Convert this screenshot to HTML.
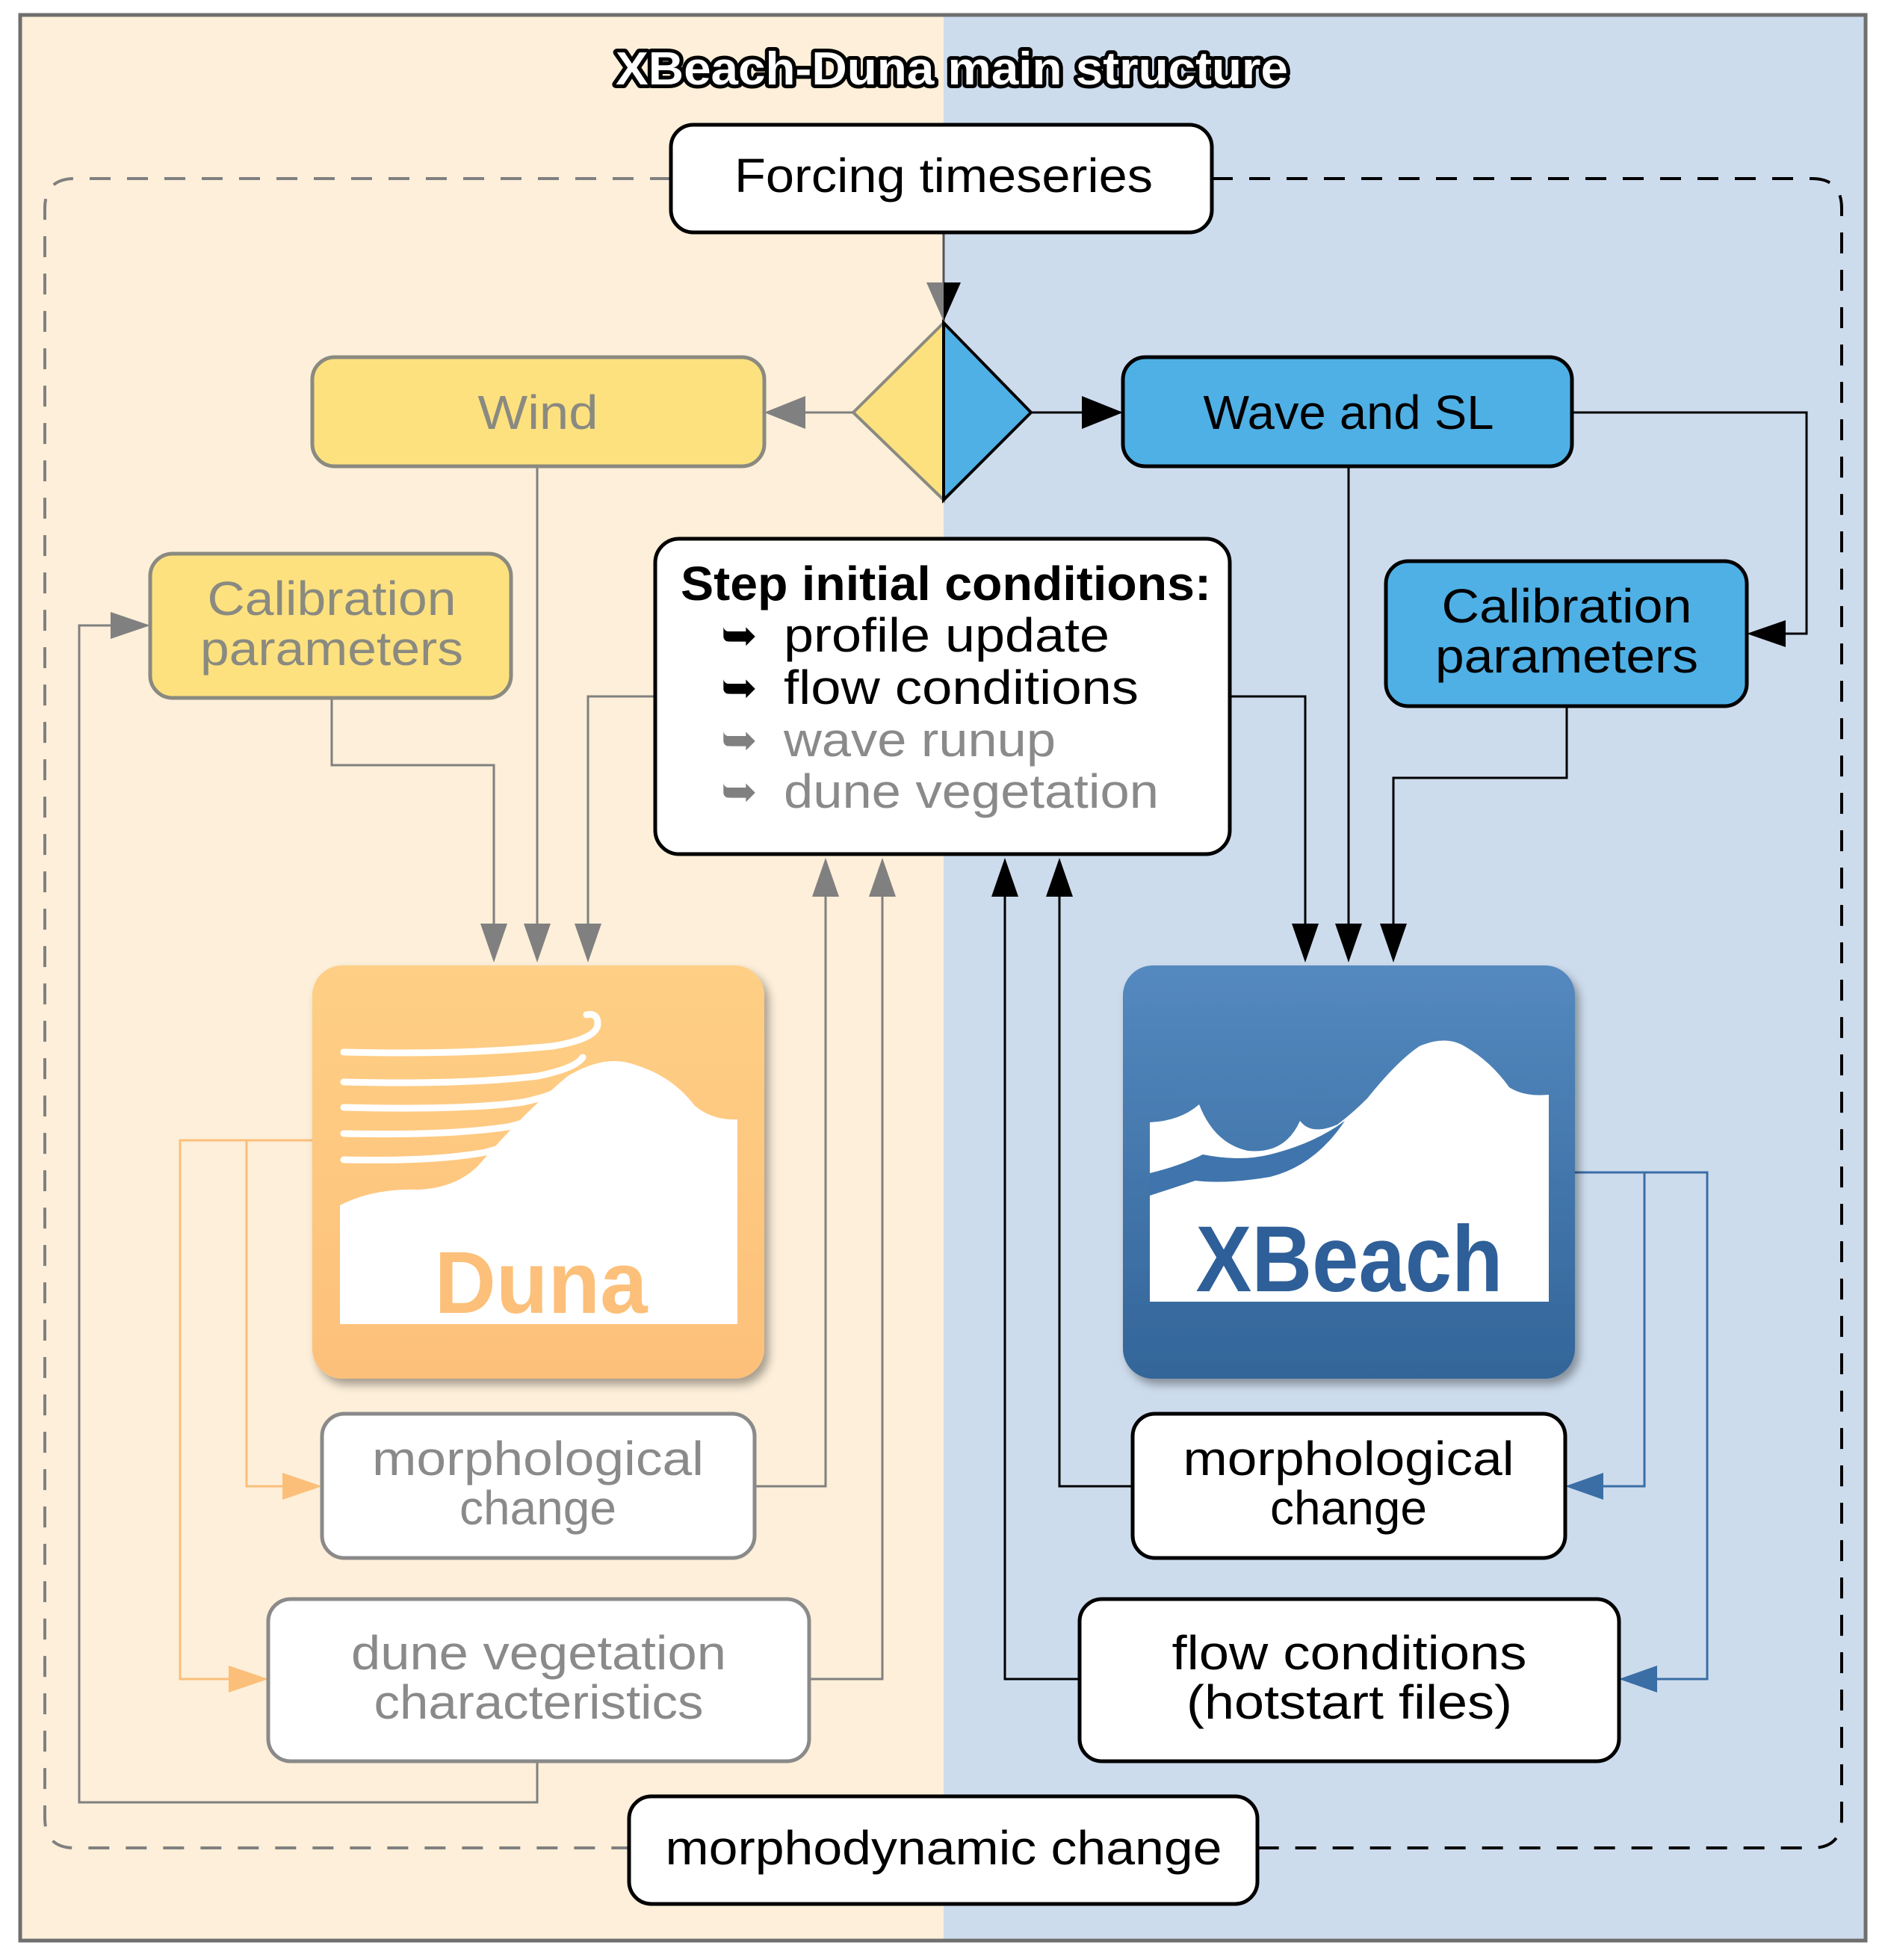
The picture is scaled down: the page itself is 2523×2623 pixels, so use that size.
<!DOCTYPE html>
<html><head><meta charset="utf-8"><style>
html,body{margin:0;padding:0;background:#fff}
svg{display:block}
text{font-family:"Liberation Sans",sans-serif}
</style></head><body>
<svg width="2523" height="2623" viewBox="0 0 2523 2623" xmlns="http://www.w3.org/2000/svg">
<defs>
<linearGradient id="gd" x1="0" y1="0" x2="0" y2="1"><stop offset="0" stop-color="#fecf85"/><stop offset="1" stop-color="#fdc07a"/></linearGradient>
<linearGradient id="gx" x1="0" y1="0" x2="0" y2="1"><stop offset="0" stop-color="#5489bf"/><stop offset="1" stop-color="#336599"/></linearGradient>
<filter id="sh" x="-10%" y="-10%" width="130%" height="130%"><feDropShadow dx="6" dy="8" stdDeviation="6" flood-color="#000" flood-opacity="0.35"/></filter>
</defs>
<rect x="27" y="20" width="1236" height="2577" fill="#fdefd9"/>
<rect x="1263" y="20" width="1234" height="2577" fill="#cddced"/>
<rect x="27" y="20" width="2470" height="2577" fill="none" stroke="#6f6f6f" stroke-width="5"/>

<text x="1274" y="113" text-anchor="middle" font-size="62" font-weight="bold" fill="#fff" stroke="#000" stroke-width="10" stroke-linejoin="round" paint-order="stroke" textLength="900" lengthAdjust="spacingAndGlyphs">XBeach-Duna main structure</text>

<path d="M898 239 H100 Q60 239 60 279 V2433 Q60 2473 100 2473 H842" fill="none" stroke="#808080" stroke-width="4" stroke-dasharray="28 22"/>
<path d="M1622 239 H2425 Q2465 239 2465 279 V2433 Q2465 2473 2425 2473 H1683" fill="none" stroke="#000" stroke-width="4" stroke-dasharray="28 22"/>

<line x1="1263" y1="311" x2="1263" y2="430" stroke="#555" stroke-width="3"/>
<polygon points="1240,378 1263,378 1263,430" fill="#808080"/>
<polygon points="1263,378 1286,378 1263,430" fill="#000"/>

<polygon points="1263,432 1142,552 1263,669" fill="#fde17f" stroke="#8a8a80" stroke-width="4"/>
<polygon points="1263,432 1380,552 1263,669" fill="#4fb0e5" stroke="#000" stroke-width="4"/>
<line x1="1142" y1="552" x2="1075" y2="552" stroke="#808080" stroke-width="3"/>
<polygon points="1023,552 1078,530 1078,574" fill="#808080"/>
<line x1="1380" y1="552" x2="1450" y2="552" stroke="#000" stroke-width="3"/>
<polygon points="1503,552 1448,530 1448,574" fill="#000"/>

<g fill="none" stroke="#808080" stroke-width="3">
<path d="M719 624 V1240"/>
<path d="M444 934 V1024 H661 V1240"/>
<path d="M877 932 H787 V1240"/>
<path d="M1010 1989 H1105 V1195"/>
<path d="M1083 2247 H1181 V1195"/>
<path d="M719 2357 V2412 H106 V837 H150"/>
</g>
<g fill="#808080">
<polygon points="643,1236 679,1236 661,1288"/>
<polygon points="701,1236 737,1236 719,1288"/>
<polygon points="769,1236 805,1236 787,1288"/>
<polygon points="1087,1200 1123,1200 1105,1148"/>
<polygon points="1163,1200 1199,1200 1181,1148"/>
<polygon points="201,837 148,819 148,855"/>
</g>
<g fill="none" stroke="#fbbf7a" stroke-width="3">
<path d="M418 1526 H241 V2247 H310"/>
<path d="M330 1526 V1989 H380"/>
</g>
<g fill="#fbbf7a">
<polygon points="431,1989 378,1971 378,2007"/>
<polygon points="359,2247 306,2229 306,2265"/>
</g>

<g fill="none" stroke="#000" stroke-width="3">
<path d="M1805 624 V1240"/>
<path d="M1646 932 H1747 V1240"/>
<path d="M2097 945 V1041 H1865 V1240"/>
<path d="M2104 552 H2418 V848 H2385"/>
<path d="M1516 1989 H1418 V1195"/>
<path d="M1445 2247 H1345 V1195"/>
</g>
<g fill="#000">
<polygon points="1729,1236 1765,1236 1747,1288"/>
<polygon points="1787,1236 1823,1236 1805,1288"/>
<polygon points="1847,1236 1883,1236 1865,1288"/>
<polygon points="2338,848 2390,830 2390,866"/>
<polygon points="1400,1200 1436,1200 1418,1148"/>
<polygon points="1327,1200 1363,1200 1345,1148"/>
</g>
<g fill="none" stroke="#3a6ea5" stroke-width="3">
<path d="M2108 1569 H2285 V2247 H2215"/>
<path d="M2201 1569 V1989 H2140"/>
</g>
<g fill="#3a6ea5">
<polygon points="2095,1989 2146,1971 2146,2007"/>
<polygon points="2167,2247 2218,2229 2218,2265"/>
</g>

<rect x="898" y="167" width="724" height="144" rx="30" fill="#fff" stroke="#000" stroke-width="5"/>
<text x="1263" y="257" text-anchor="middle" font-size="64" fill="#000" textLength="560" lengthAdjust="spacingAndGlyphs">Forcing timeseries</text>

<rect x="418" y="478" width="605" height="146" rx="30" fill="#fde17f" stroke="#8a8a80" stroke-width="5"/>
<text x="720" y="574" text-anchor="middle" font-size="64" fill="#8a8a80" textLength="161" lengthAdjust="spacingAndGlyphs">Wind</text>

<rect x="1503" y="478" width="601" height="146" rx="30" fill="#4fb0e5" stroke="#000" stroke-width="5"/>
<text x="1805" y="574" text-anchor="middle" font-size="64" fill="#000" textLength="389" lengthAdjust="spacingAndGlyphs">Wave and SL</text>

<rect x="201" y="741" width="483" height="193" rx="30" fill="#fde17f" stroke="#8a8a80" stroke-width="5"/>
<text x="444" y="823" text-anchor="middle" font-size="64" fill="#8a8a80" textLength="333" lengthAdjust="spacingAndGlyphs">Calibration</text>
<text x="444" y="890" text-anchor="middle" font-size="64" fill="#8a8a80" textLength="352" lengthAdjust="spacingAndGlyphs">parameters</text>

<rect x="1855" y="751" width="483" height="194" rx="30" fill="#4fb0e5" stroke="#000" stroke-width="5"/>
<text x="2097" y="833" text-anchor="middle" font-size="64" fill="#000" textLength="335" lengthAdjust="spacingAndGlyphs">Calibration</text>
<text x="2097" y="900" text-anchor="middle" font-size="64" fill="#000" textLength="352" lengthAdjust="spacingAndGlyphs">parameters</text>

<rect x="877" y="721" width="769" height="422" rx="32" fill="#fff" stroke="#000" stroke-width="5"/>
<text x="911" y="803" font-size="64" font-weight="bold" fill="#000" textLength="710" lengthAdjust="spacingAndGlyphs">Step initial conditions:</text>
<text x="965" y="870" font-size="58" fill="#000">➥</text>
<text x="1049" y="872" font-size="64" fill="#000" textLength="436" lengthAdjust="spacingAndGlyphs">profile update</text>
<text x="965" y="940" font-size="58" fill="#000">➥</text>
<text x="1049" y="942" font-size="64" fill="#000" textLength="475" lengthAdjust="spacingAndGlyphs">flow conditions</text>
<text x="965" y="1010" font-size="58" fill="#808080">➥</text>
<text x="1049" y="1012" font-size="64" fill="#8a8a8a" textLength="364" lengthAdjust="spacingAndGlyphs">wave runup</text>
<text x="965" y="1079" font-size="58" fill="#808080">➥</text>
<text x="1049" y="1081" font-size="64" fill="#8a8a8a" textLength="502" lengthAdjust="spacingAndGlyphs">dune vegetation</text>

<rect x="418" y="1292" width="605" height="553" rx="40" fill="url(#gd)" filter="url(#sh)"/>
<path d="M455 1772 V1613 Q500 1590 560 1592 Q610 1590 640 1560 Q700 1490 760 1440 Q810 1410 850 1425 Q900 1440 930 1480 Q955 1500 987 1498 V1772 Z" fill="#fff"/>
<g fill="none" stroke="#fff" stroke-width="9" stroke-linecap="round">
<path d="M460 1408 Q620 1412 740 1400 Q800 1390 800 1370 Q800 1355 785 1358"/>
<path d="M460 1448 Q620 1452 720 1440 Q770 1430 780 1415"/>
<path d="M460 1482 Q620 1486 700 1475 Q750 1465 770 1445"/>
<path d="M460 1517 Q600 1520 680 1508 Q735 1495 755 1470"/>
<path d="M460 1552 Q580 1555 650 1542 Q705 1528 735 1500"/>
</g>
<text x="724" y="1757" text-anchor="middle" font-size="118" font-weight="bold" fill="#fcc07a" textLength="285" lengthAdjust="spacingAndGlyphs">Duna</text>

<rect x="1503" y="1292" width="605" height="553" rx="40" fill="url(#gx)" filter="url(#sh)"/>
<path d="M1539 1742 V1502 Q1580 1500 1605 1478 Q1625 1530 1670 1540 Q1720 1545 1740 1500 Q1755 1520 1790 1505 Q1810 1490 1830 1470 Q1870 1420 1900 1400 Q1935 1385 1960 1400 Q1995 1420 2020 1455 Q2040 1468 2073 1465 V1742 Z" fill="#fff"/>
<path d="M1539 1570 Q1580 1560 1610 1545 Q1660 1555 1700 1545 Q1760 1530 1800 1500 Q1760 1560 1700 1575 Q1640 1585 1600 1580 Q1570 1590 1539 1600 Z" fill="#3f74ac"/>
<text x="1806" y="1728" text-anchor="middle" font-size="125" font-weight="bold" fill="#2f5f98" textLength="411" lengthAdjust="spacingAndGlyphs">XBeach</text>

<rect x="431" y="1892" width="579" height="193" rx="30" fill="#fff" stroke="#8a8a8a" stroke-width="5"/>
<text x="720" y="1974" text-anchor="middle" font-size="64" fill="#8a8a8a" textLength="444" lengthAdjust="spacingAndGlyphs">morphological</text>
<text x="720" y="2040" text-anchor="middle" font-size="64" fill="#8a8a8a">change</text>

<rect x="359" y="2140" width="724" height="217" rx="30" fill="#fff" stroke="#8a8a8a" stroke-width="5"/>
<text x="721" y="2234" text-anchor="middle" font-size="64" fill="#8a8a8a" textLength="502" lengthAdjust="spacingAndGlyphs">dune vegetation</text>
<text x="721" y="2300" text-anchor="middle" font-size="64" fill="#8a8a8a" textLength="441" lengthAdjust="spacingAndGlyphs">characteristics</text>

<rect x="1516" y="1892" width="579" height="193" rx="30" fill="#fff" stroke="#000" stroke-width="5"/>
<text x="1805" y="1974" text-anchor="middle" font-size="64" fill="#000" textLength="443" lengthAdjust="spacingAndGlyphs">morphological</text>
<text x="1805" y="2040" text-anchor="middle" font-size="64" fill="#000">change</text>

<rect x="1445" y="2140" width="722" height="217" rx="30" fill="#fff" stroke="#000" stroke-width="5"/>
<text x="1806" y="2234" text-anchor="middle" font-size="64" fill="#000" textLength="475" lengthAdjust="spacingAndGlyphs">flow conditions</text>
<text x="1806" y="2300" text-anchor="middle" font-size="64" fill="#000" textLength="436" lengthAdjust="spacingAndGlyphs">(hotstart files)</text>

<rect x="842" y="2404" width="841" height="144" rx="30" fill="#fff" stroke="#000" stroke-width="5"/>
<text x="1263" y="2495" text-anchor="middle" font-size="64" fill="#000" textLength="745" lengthAdjust="spacingAndGlyphs">morphodynamic change</text>
</svg>
</body></html>
